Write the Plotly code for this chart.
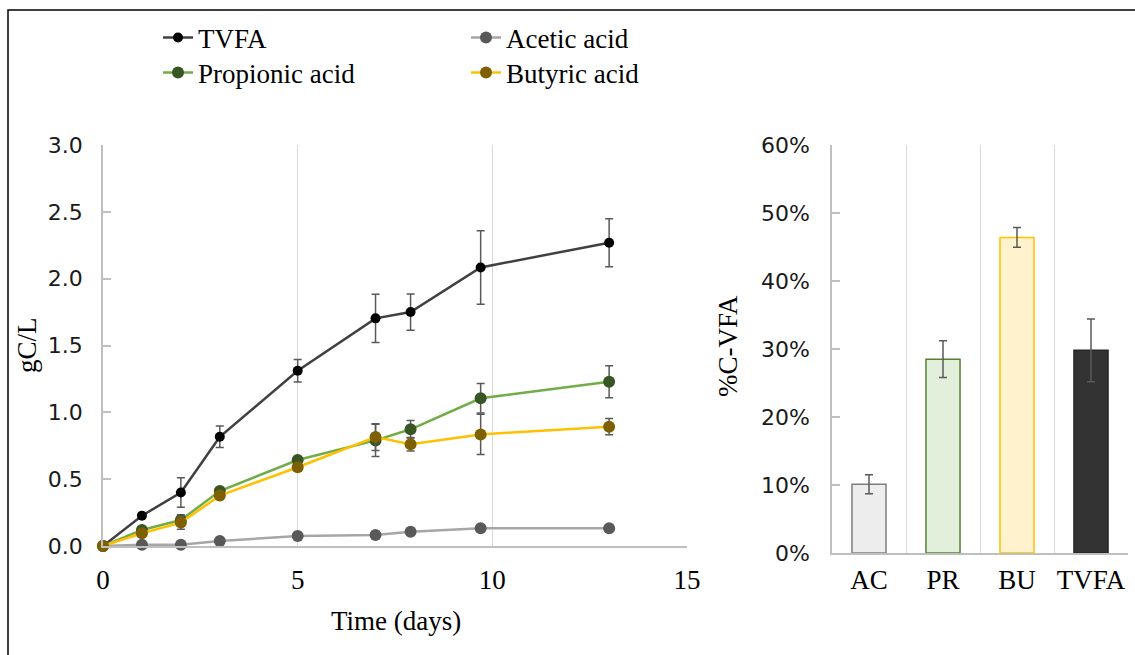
import plotly.graph_objects as go

W, H = 1135, 655

# ---------------- data ----------------
days = [0, 1, 2, 3, 5, 7, 7.9, 9.7, 13]
tvfa = [0, 0.227, 0.40, 0.817, 1.311, 1.703, 1.75, 2.084, 2.269]
tvfa_err = [0, 0.01, 0.11, 0.08, 0.085, 0.18, 0.135, 0.275, 0.18]
acetic = [0, 0.01, 0.01, 0.037, 0.075, 0.082, 0.107, 0.132, 0.132]
acetic_err = [0, 0.004, 0.004, 0.005, 0.006, 0.006, 0.006, 0.006, 0.006]
propionic = [0, 0.12, 0.194, 0.411, 0.643, 0.79, 0.873, 1.105, 1.229]
propionic_err = [0, 0.02, 0.04, 0.02, 0.02, 0.12, 0.065, 0.11, 0.12]
butyric = [0, 0.095, 0.175, 0.377, 0.589, 0.815, 0.761, 0.835, 0.893]
butyric_err = [0, 0.02, 0.05, 0.03, 0.03, 0.10, 0.05, 0.15, 0.06]

bar_cats = ["AC", "PR", "BU", "TVFA"]
bar_vals = [10.1, 28.5, 46.4, 29.8]
bar_err = [1.4, 2.7, 1.45, 4.6]

left_ticks = [0, 0.5, 1, 1.5, 2, 2.5, 3]
right_ticks = [0, 10, 20, 30, 40, 50, 60]
x_ticks = [0, 5, 10, 15]

SERIF = "Liberation Serif"
SANS = "DejaVu Sans"
FS = 27
FS_Y = 22
ERRC = "#595959"


def px_x(p):
    return p / W


def px_y(p):
    return 1 - p / H


fig = go.Figure()

series = [
    ("TVFA", tvfa, tvfa_err, "#404040", "#000000", 10, "legend"),
    ("Acetic acid", acetic, acetic_err, "#A6A6A6", "#595959", 12, "legend2"),
    ("Propionic acid", propionic, propionic_err, "#70AD47", "#375623", 12, "legend3"),
    ("Butyric acid", butyric, butyric_err, "#FFC000", "#7F6000", 12, "legend4"),
]
for name, ys, es, lc, mc, ms, lg in series:
    fig.add_trace(go.Scatter(
        x=days, y=ys, name=name, mode="lines+markers",
        line=dict(color=lc, width=2.5),
        marker=dict(color=mc, size=ms),
        error_y=dict(type="data", array=es, visible=True, color=ERRC, thickness=1.5, width=4),
        cliponaxis=False, xaxis="x", yaxis="y", legend=lg,
    ))

fig.add_trace(go.Bar(
    x=bar_cats, y=bar_vals, xaxis="x2", yaxis="y2", showlegend=False,
    marker=dict(color=["#EDEDED", "#E2EFDA", "#FFF2CC", "#333333"],
                line=dict(color=["#7F7F7F", "#548235", "#FFC000", "#262626"], width=1.5)),
    error_y=dict(type="data", array=bar_err, visible=True, color=ERRC, thickness=1.5, width=4),
))

axis_line = "#BFBFBF"
grid = "#D9D9D9"
xtickfont = dict(family=SERIF, size=FS, color="#000000")
ytickfont = dict(family=SANS, size=FS_Y, color="#1a1a1a")


def leg(x, y):
    return dict(xref="container", yref="container", x=px_x(x), y=px_y(y),
                xanchor="left", yanchor="middle", orientation="v",
                font=dict(family=SERIF, size=FS, color="#000000"),
                bgcolor="rgba(0,0,0,0)", borderwidth=0)


fig.update_layout(
    width=W, height=H, margin=dict(l=0, r=0, t=0, b=0, autoexpand=False),
    template="none",
    paper_bgcolor="white", plot_bgcolor="white",
    font=dict(family=SERIF, size=FS, color="#000000"),
    bargap=0.54,
    xaxis=dict(domain=[px_x(103), px_x(687)], range=[0, 15], tickvals=x_ticks,
               showgrid=True, gridcolor=grid, gridwidth=1, zeroline=False,
               showline=True, linecolor=axis_line, linewidth=1.5, ticks="",
               tickfont=xtickfont, automargin=False, ticklabelstandoff=9, anchor="y"),
    yaxis=dict(domain=[px_y(546), px_y(145)], range=[0, 3], tickvals=left_ticks,
               ticktext=[f"{v:.1f}" for v in left_ticks], showgrid=False, zeroline=False,
               showline=True, linecolor=axis_line, linewidth=1.5,
               ticks="inside", ticklen=8, tickcolor=axis_line, tickwidth=1.5,
               tickfont=ytickfont, automargin=False, anchor="x", ticklabelstandoff=14),
    xaxis2=dict(domain=[px_x(832), px_x(1128)], type="category", tickson="boundaries",
                showgrid=True, gridcolor=grid, gridwidth=1, zeroline=False,
                showline=True, linecolor=axis_line, linewidth=1.5, ticks="",
                tickfont=xtickfont, automargin=False, anchor="y2", ticklabelstandoff=2,
                tickangle=0),
    yaxis2=dict(domain=[px_y(553), px_y(145)], range=[0, 60], tickvals=right_ticks,
                ticktext=[f"{v}%" for v in right_ticks], showgrid=False, zeroline=False,
                showline=True, linecolor=axis_line, linewidth=1.5,
                ticks="inside", ticklen=8, tickcolor=axis_line, tickwidth=1.5,
                tickfont=ytickfont, automargin=False, anchor="x2", ticklabelstandoff=16),
    legend=leg(158, 38),
    legend2=leg(466, 38),
    legend3=leg(158, 73),
    legend4=leg(466, 73),
    showlegend=True,
)

annos = [
    dict(text="gC/L", x=px_x(27), y=px_y(345), textangle=-90),
    dict(text="Time (days)", x=px_x(396), y=px_y(621), textangle=0),
    dict(text="%C-VFA", x=px_x(728), y=px_y(346), textangle=-90),
]
for a in annos:
    fig.add_annotation(xref="paper", yref="paper", showarrow=False,
                       xanchor="center", yanchor="middle",
                       font=dict(family=SERIF, size=FS, color="#000000"), **a)

fig.add_shape(type="rect", xref="paper", yref="paper",
              x0=px_x(8), x1=1.02, y0=-0.02, y1=px_y(10),
              line=dict(color="#000000", width=1.5), fillcolor="rgba(0,0,0,0)", layer="above")

fig.write_html("out.html")
